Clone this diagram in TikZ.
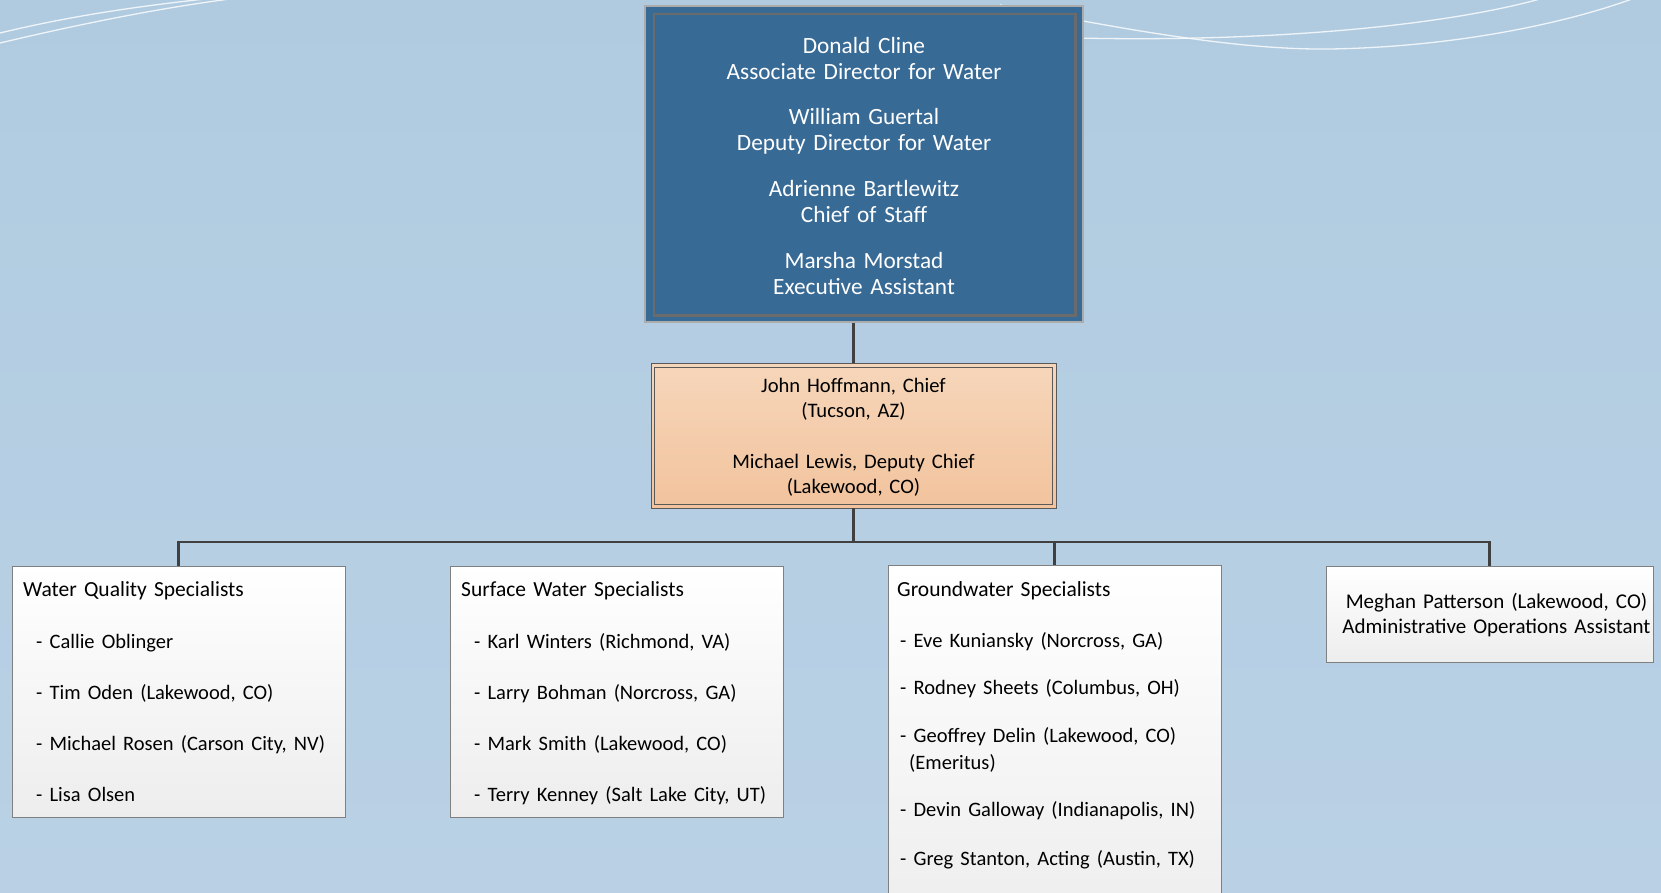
\documentclass[tikz,border=0pt]{standalone}
\usepackage{fontspec}
\setmainfont{Carlito}
\usetikzlibrary{calc}

\definecolor{bgtop}{RGB}{176,203,224}
\definecolor{bgbot}{RGB}{186,209,229}
\definecolor{chiefblue}{RGB}{56,106,150}
\definecolor{peachtop}{RGB}{246,214,186}
\definecolor{peachbot}{RGB}{242,195,157}
\definecolor{linegray}{RGB}{64,64,64}
\newcommand\memberfont{\fontsize{20.5}{26}\selectfont}

\begin{document}
\begin{tikzpicture}[x=1pt, y=-1pt,
    director/.style={draw=black!33, line width=2.5pt, fill=chiefblue, minimum width=438pt, minimum height=316pt, inner sep=0pt},
    chief/.style={draw=black!65, line width=0.9pt, top color=peachtop, bottom color=peachbot, minimum width=405pt, minimum height=145pt, inner sep=0pt},
    team/.style={draw=black!50, line width=1pt, top color=white, bottom color=black!7, minimum width=333pt, inner sep=0pt},
    names/.style={text width=330pt, align=left, anchor=base west, inner sep=0pt, font=\fontsize{21.5}{26}\selectfont},
    centred/.style={text width=420pt, align=center, anchor=base, inner sep=0pt},
    wave/.style={draw=white, opacity=.8, line width=1.3pt},
    conn/.style={draw=linegray, line width=2.8pt}]

    \useasboundingbox (0,0) rectangle (1661,892);
    \clip (0,0) rectangle (1661,892);
    \shade[top color=bgtop, bottom color=bgbot] (0,0) rectangle (1661,892);

    \draw[wave] (0,33) .. controls (70,16) and (140,6) .. (205,-1);
    \draw[wave] (0,43) .. controls (80,24) and (160,8) .. (230,-1);
    \draw[wave] (1000,5) .. controls (1150,35) and (1250,50) .. (1330,49) .. controls (1450,47) and (1560,25) .. (1632,-1);
    \draw[wave] (1000,35) .. controls (1200,46) and (1420,32) .. (1540,-1);

    \node[director] (dir) at (864,164) {};
    \draw[draw=black!58, line width=2.5pt] ($(dir.north west)+(10,9)$) rectangle ($(dir.south east)+(-9,-8)$);
    \node[centred, text=white, font=\fontsize{23.3}{26}\selectfont] (dirtext) at (864,53) {Donald Cline\\Associate Director for Water\\[19.7pt]William Guertal\\Deputy Director for Water\\[19.7pt]Adrienne Bartlewitz\\Chief of Staff\\[19.7pt]Marsha Morstad\\Executive Assistant};

    \node[chief] (chief) at (853.5,435.5) {};
    \draw[draw=black!65, line width=0.9pt] ($(chief.north west)+(4,5)$) rectangle ($(chief.south east)+(-4,-4)$);
    \node[centred, font=\fontsize{20.6}{25.5}\selectfont] (chieftext) at (853.5,392) {John Hoffmann, Chief\\(Tucson, AZ)\\[25pt]Michael Lewis, Deputy Chief\\(Lakewood, CO)};

    \node[team, minimum height=251pt] (wq) at (178.5,691.5) {};
    \node[team, minimum height=251pt] (sw) at (616.5,691.5) {};
    \node[team, minimum height=360pt] (gw) at (1054.5,745) {};
    \node[team, minimum width=327pt, minimum height=96pt] (meg) at (1489.5,614) {};

    \node[names] (wqtext) at (23,596) {Water Quality Specialists\\[26pt]\memberfont\hspace*{13pt}- Callie Oblinger\\[25pt]\hspace*{13pt}- Tim Oden (Lakewood, CO)\\[25pt]\hspace*{13pt}- Michael Rosen (Carson City, NV)\\[25pt]\hspace*{13pt}- Lisa Olsen};
    \node[names] (swtext) at (461,596) {Surface Water Specialists\\[26pt]\memberfont\hspace*{13pt}- Karl Winters (Richmond, VA)\\[25pt]\hspace*{13pt}- Larry Bohman (Norcross, GA)\\[25pt]\hspace*{13pt}- Mark Smith (Lakewood, CO)\\[25pt]\hspace*{13pt}- Terry Kenney (Salt Lake City, UT)};
    \node[names] (gwtext) at (897,596) {Groundwater Specialists\\[25pt]\memberfont\hspace*{3pt}- Eve Kuniansky (Norcross, GA)\\[21pt]\hspace*{3pt}- Rodney Sheets (Columbus, OH)\\[22pt]\hspace*{3pt}- Geoffrey Delin (Lakewood, CO)\\[1pt]\hspace*{12pt}(Emeritus)\\[21pt]\hspace*{3pt}- Devin Galloway (Indianapolis, IN)\\[23pt]\hspace*{3pt}- Greg Stanton, Acting (Austin, TX)};
    \node[centred, font=\fontsize{21}{25}\selectfont] (megtext) at (1496.5,608) {Meghan Patterson (Lakewood, CO)\\Administrative Operations Assistant};

    \coordinate (bus) at (853.5,542);
    \draw[conn] (dir.south -| chief.north) -- (chief.north);
    \draw[conn] (chief.south) -- (bus);
    \draw[conn] (wq.north) |- (bus) -| (meg.north);
    \draw[conn] (gw.north) -- (gw.north |- bus);

\end{tikzpicture}
\end{document}
